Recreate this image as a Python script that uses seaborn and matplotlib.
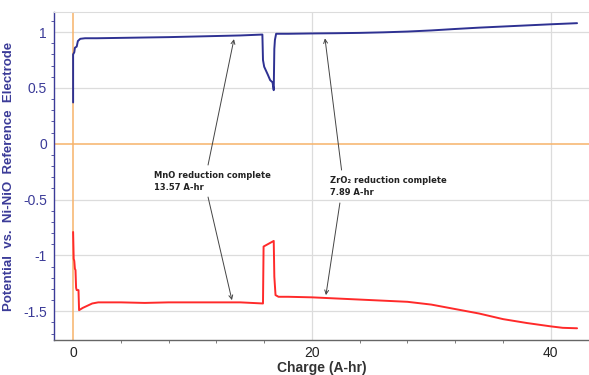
import pandas as pd
import matplotlib
matplotlib.use("Agg")
import matplotlib.pyplot as plt
import seaborn as sns

# working electrode (blue) and counter electrode (red) potentials vs charge
blue_x = [0, 0, 0.1, 0.15, 0.3, 0.4, 0.6, 1.0, 2, 5, 8, 10, 12, 14, 15.85, 15.9, 16.0, 16.3, 16.5,
          16.7, 16.8, 16.85, 16.9, 17.0, 18, 20, 22, 24, 26, 28, 30, 32, 34, 36, 38, 40, 42.2]
blue_y = [0.37, 0.80, 0.82, 0.86, 0.87, 0.92, 0.94, 0.945, 0.945, 0.95, 0.955, 0.96, 0.965, 0.97,
          0.978, 0.75, 0.69, 0.62, 0.57, 0.55, 0.48, 0.85, 0.93, 0.985, 0.985, 0.988, 0.99, 0.993,
          0.998, 1.005, 1.015, 1.028, 1.04, 1.05, 1.06, 1.07, 1.08]

red_x = [0, 0.05, 0.1, 0.15, 0.2, 0.25, 0.3, 0.45, 0.5, 0.8, 1.2, 1.6, 2.1, 4, 6, 8, 10, 12, 14,
         15.9, 15.95, 16.8, 16.85, 16.95, 17.2, 18, 20, 22, 24, 26, 28, 30, 32, 34, 36, 38, 40, 41, 42.2]
red_y = [-0.79, -1.03, -1.05, -1.12, -1.13, -1.29, -1.31, -1.31, -1.49, -1.47, -1.45, -1.43, -1.42,
         -1.42, -1.425, -1.42, -1.42, -1.42, -1.42, -1.43, -0.92, -0.87, -1.19, -1.355, -1.37,
         -1.37, -1.375, -1.385, -1.395, -1.405, -1.415, -1.44, -1.48, -1.52, -1.57, -1.605,
         -1.635, -1.648, -1.652]

xticks = [0, 20, 40]
yticks = [-1.5, -1, -0.5, 0, 0.5, 1]
ytick_labels = ["-1.5", "-1", "-0.5", "0", "0.5", "1"]

# (text, text pos, up arrow tail, up arrow head, down arrow tail, down arrow head)
notes = [
    ("MnO reduction complete\n13.57 A-hr", (6.78, -0.334), (11.3, -0.19), (13.47, 0.937), (11.3, -0.477), (13.3, -1.40)),
    ("ZrO\u2082 reduction complete\n7.89 A-hr", (21.5, -0.38), (22.48, -0.235), (21.09, 0.944), (22.34, -0.53), (21.17, -1.355)),
]

blue_df = pd.DataFrame({"Charge": blue_x, "Potential": blue_y})
red_df = pd.DataFrame({"Charge": red_x, "Potential": red_y})

sns.set_style("white")
plt.rcParams["font.family"] = ["Liberation Sans", "DejaVu Sans"]

fig = plt.figure(figsize=(5.89, 3.75), dpi=100)
ax = fig.add_axes([54 / 589, 35 / 375, 535 / 589, 328 / 375])

ax.set_xlim(-1.6, 43.2)
ax.set_ylim(-1.757, 1.18)

# grid and zero lines
for gx in [20, 40]:
    ax.axvline(gx, color="#dcdcdc", lw=0.9, zorder=0)
for gy in [-1.5, -1, -0.5, 0.5, 1]:
    ax.axhline(gy, color="#dcdcdc", lw=0.9, zorder=0)
ax.axhline(0, color="#f7b36a", lw=1.1, zorder=1)
ax.axvline(0, color="#f7b36a", lw=1.1, zorder=1)

sns.lineplot(data=blue_df, x="Charge", y="Potential", sort=False, estimator=None,
             color="#2e3192", lw=1.4, ax=ax, zorder=3)
sns.lineplot(data=red_df, x="Charge", y="Potential", sort=False, estimator=None,
             color="#ff2a2a", lw=1.4, ax=ax, zorder=3)

for text, tpos, ut, uh, dt, dh in notes:
    ax.text(tpos[0], tpos[1], text, fontsize=6, fontweight="bold", color="#222222",
            ha="left", va="center", linespacing=1.45, family=["DejaVu Sans"], zorder=4)
    for tail, head in [(ut, uh), (dt, dh)]:
        ax.annotate("", xy=head, xytext=tail,
                    arrowprops=dict(arrowstyle="->", color="#444444", lw=0.7,
                                    mutation_scale=7, shrinkA=0, shrinkB=0), zorder=4)

ax.set_xticks(xticks)
ax.set_xticklabels([str(t) for t in xticks], fontsize=10, color="#222222")
ax.set_yticks(yticks)
ax.set_yticklabels(ytick_labels, fontsize=10, color="#3b3b98")
ax.set_xticks(range(4, 44, 4), minor=True)
ax.set_yticks([v / 10 for v in range(-17, 12)], minor=True)
ax.tick_params(axis="y", which="major", length=3, color="#3b3b98", pad=2)
ax.tick_params(axis="y", which="minor", length=2, color="#3b3b98", left=True)
ax.tick_params(axis="x", which="major", length=0, pad=4)
ax.tick_params(axis="x", which="minor", length=2, color="#666666", bottom=True)

ax.spines["left"].set_color("#3b3b98")
ax.spines["left"].set_linewidth(1.0)
ax.spines["bottom"].set_color("#666666")
ax.spines["bottom"].set_linewidth(1.0)
ax.spines["top"].set_color("#dcdcdc")
ax.spines["right"].set_visible(False)

ax.set_xlabel("Charge (A-hr)", fontsize=10, fontweight="bold", color="#333333", labelpad=1)
ax.set_ylabel("Potential  vs.  Ni-NiO  Reference  Electrode", fontsize=9.5, fontweight="bold",
              color="#3b3b98", labelpad=6)

fig.savefig("out.png", dpi=100)
